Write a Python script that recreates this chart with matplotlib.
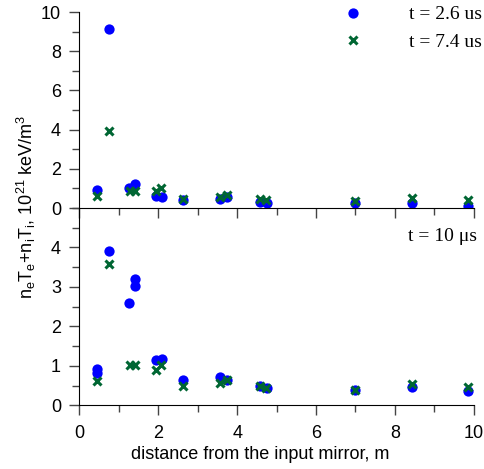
import matplotlib
matplotlib.use("Agg")
import matplotlib.pyplot as plt
from matplotlib.ticker import MultipleLocator

plt.rcParams['font.family'] = ['Liberation Sans', 'DejaVu Sans']
plt.rcParams['mathtext.fontset'] = 'custom'
plt.rcParams['mathtext.rm'] = 'Liberation Sans'
plt.rcParams['mathtext.it'] = 'Liberation Sans:italic'

# top panel: t = 2.6 us (circles), t = 7.4 us (crosses)
x_a = [0.44, 0.76, 1.25, 1.42, 1.93, 2.10, 2.63, 3.56, 3.73, 4.57, 4.75, 6.99, 8.42, 9.84]
y_a = [0.90, 9.12, 1.00, 1.22, 0.61, 0.58, 0.41, 0.44, 0.55, 0.30, 0.24, 0.24, 0.27, 0.12]
x_b = [0.44, 0.76, 1.28, 1.42, 1.93, 2.08, 2.63, 3.56, 3.73, 4.57, 4.74, 6.99, 8.42, 9.84]
y_b = [0.61, 3.95, 0.88, 0.88, 0.87, 1.00, 0.47, 0.55, 0.66, 0.44, 0.41, 0.36, 0.49, 0.41]

# bottom panel: t = 10 us
x_c = [0.44, 0.44, 0.76, 1.25, 1.42, 1.42, 1.93, 2.10, 2.63, 3.56, 3.73, 4.57, 4.75, 6.99, 8.42, 9.84]
y_c = [0.93, 0.82, 3.91, 2.60, 3.19, 3.02, 1.15, 1.18, 0.63, 0.71, 0.64, 0.50, 0.45, 0.39, 0.47, 0.35]
x_d = [0.44, 0.76, 1.28, 1.42, 1.93, 2.08, 2.63, 3.56, 3.73, 4.57, 4.74, 6.99, 8.42, 9.84]
y_d = [0.62, 3.57, 1.01, 1.01, 0.90, 1.01, 0.50, 0.56, 0.63, 0.50, 0.45, 0.39, 0.53, 0.47]

blue = '#0000ff'
green = '#006633'

fig = plt.figure(figsize=(4.84, 4.69), dpi=100)
ax1 = fig.add_axes([0.164, 0.5565, 0.815, 0.4179])
ax2 = fig.add_axes([0.164, 0.1358, 0.815, 0.4207])

ax1.plot(x_a, y_a, 'o', color=blue, ms=7.4, mew=0, label='t = 2.6 us')
ax1.plot(x_b, y_b, 'x', color=green, ms=6, mew=2.2, label='t = 7.4 us')
ax2.plot(x_c, y_c, 'o', color=blue, ms=7.4, mew=0)
ax2.plot(x_d, y_d, 'x', color=green, ms=6, mew=2.2)

for ax in (ax1, ax2):
    ax.set_xlim(0, 10)
    ax.spines['top'].set_visible(False)
    ax.spines['right'].set_visible(False)
    ax.xaxis.set_major_locator(MultipleLocator(2))
    ax.xaxis.set_minor_locator(MultipleLocator(1))
    ax.tick_params(which='major', direction='out', length=7.2, width=1, color='#444444', labelsize=13, pad=6)
    ax.tick_params(which='minor', direction='out', length=4.8, width=1, color='#444444')
    ax.tick_params(axis='x', pad=7)
    ax.patch.set_alpha(0)

ax1.set_ylim(0, 10)
ax1.yaxis.set_major_locator(MultipleLocator(2))
ax1.yaxis.set_minor_locator(MultipleLocator(1))
ax1.tick_params(axis='x', labelbottom=False)

ax2.set_ylim(0, 5)
ax2.yaxis.set_major_locator(MultipleLocator(1))
ax2.yaxis.set_minor_locator(MultipleLocator(0.5))
ax2.set_yticks([0, 1, 2, 3, 4])
ax2.set_xlabel('distance from the input mirror, m', fontsize=13, labelpad=0)
ax2.xaxis.set_label_coords(0.458, -0.205)
ax2.xaxis.label.set_va('top')

ax1.legend(loc='upper right', bbox_to_anchor=(1.0, 0.992), bbox_transform=fig.transFigure,
           frameon=False, prop={'family': 'Liberation Serif', 'size': 14},
           handletextpad=1.9, labelspacing=0.5, borderaxespad=0, borderpad=0.1)

ax2.text(1.008, 0.855, 't = 10 \u03bcs', transform=ax2.transAxes, ha='right', va='center',
         family='Liberation Serif', fontsize=14)

fig.text(0.054, 0.559, r'n$_{\rm e}$T$_{\rm e}$+n$_{\rm i}$T$_{\rm i}$, 10$^{21}$ keV/m$^{3}$',
         rotation=90, ha='center', va='center', fontsize=13)

fig.savefig('out.png', dpi=100)
